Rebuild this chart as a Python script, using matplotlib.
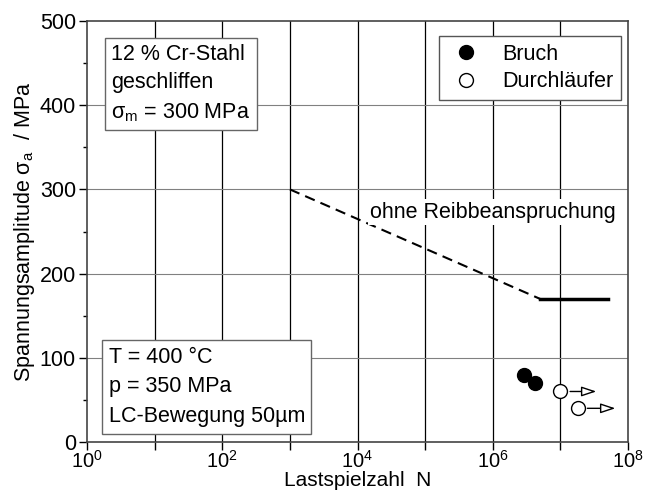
import numpy as np
import matplotlib.pyplot as plt
from matplotlib.ticker import NullFormatter

plt.rcParams['font.family'] = ['Liberation Sans', 'DejaVu Sans']
plt.rcParams['mathtext.fontset'] = 'custom'
plt.rcParams['mathtext.rm'] = 'Liberation Sans'
plt.rcParams['mathtext.it'] = 'Liberation Sans'

# Daten
bruch_N = [2.9e6, 4.2e6]
bruch_sa = [80, 70]
durch_N = [1.0e7, 1.8e7]
durch_sa = [60, 40]
durch_pfeil_N = [3.4e7, 6.5e7]

ohne_N = [1e3, 5e6]
ohne_sa = [300, 170]
dauer_N = [5e6, 5e7]
dauer_sa = [170, 170]

fs = 15.5

fig = plt.figure(figsize=(6.45, 4.93), dpi=100)
ax = fig.add_axes([87/645, 51/493, 541/645, 421/493])

ax.set_xscale('log')
ax.set_xlim(1, 1e8)
ax.set_ylim(0, 500)

# Gitter
for d in range(1, 8):
    ax.axvline(10.0**d, color='black', lw=0.9, zorder=1)
for yv in [100, 200, 300, 400]:
    ax.axhline(yv, color='#808080', lw=0.8, zorder=1)

ax.set_xticks([1, 1e2, 1e4, 1e6, 1e8])
ax.set_xticklabels(['$10^0$', '$10^2$', '$10^4$', '$10^6$', '$10^8$'])
ax.set_xticks([10.0**d for d in range(1, 8, 2)], minor=True)
ax.xaxis.set_minor_formatter(NullFormatter())
ax.set_yticks([0, 100, 200, 300, 400, 500])
ax.set_yticks([50, 150, 250, 350, 450], minor=True)
ax.tick_params(which='major', direction='out', length=6, width=1, labelsize=fs, pad=2)
ax.tick_params(axis='x', which='major', labelsize=14.5, pad=0)
ax.tick_params(which='minor', direction='out', length=3, width=1)
ax.tick_params(axis='x', which='minor', length=6)
for s in ax.spines.values():
    s.set_color('#444444')
    s.set_linewidth(1.2)

# Linien
ax.plot(ohne_N, ohne_sa, color='black', lw=1.5, ls=(0, (5, 3)), zorder=3)
ax.plot(dauer_N, dauer_sa, color='black', lw=2.5, zorder=3)

# Punkte
ax.plot(bruch_N, bruch_sa, 'o', ms=10, color='black', ls='none', zorder=5, label='Bruch')
for n, s, e in zip(durch_N, durch_sa, durch_pfeil_N):
    ax.annotate('', xy=(e, s), xytext=(n, s),
                arrowprops=dict(arrowstyle='-|>,head_length=0.9,head_width=0.3',
                                fc='white', ec='black', lw=1, shrinkA=7, shrinkB=0),
                zorder=4)
ax.plot(durch_N, durch_sa, 'o', ms=10, mfc='white', mec='black', mew=1,
        ls='none', zorder=5, label='Durchläufer')

leg = ax.legend(loc='upper right', bbox_to_anchor=(0.987, 0.964), borderaxespad=0,
                fontsize=fs, frameon=True, fancybox=False,
                edgecolor='#555555', framealpha=1,
                handletextpad=0.8, labelspacing=0.3, borderpad=0.35,
                handlelength=1.8)
leg.get_frame().set_linewidth(1)

# Texte
box = dict(boxstyle='square,pad=0.3', fc='white', ec='#666666', lw=1)
ax.text(0.045, 0.945, '12 % Cr-Stahl\ngeschliffen\nσ$_\\mathrm{m}$ = 300 MPa',
        transform=ax.transAxes, fontsize=fs, va='top', ha='left',
        linespacing=1.45, bbox=box, zorder=6)
ax.text(0.04, 0.035, 'T = 400 °C\np = 350 MPa\nLC-Bewegung 50µm',
        transform=ax.transAxes, fontsize=fs, va='bottom', ha='left',
        linespacing=1.55, bbox=box, zorder=6)
ax.text(1.0e6, 273, 'ohne Reibbeanspruchung', fontsize=fs, ha='center', va='center',
        bbox=dict(boxstyle='square,pad=0.1', fc='white', ec='none'), zorder=6)

ax.set_xlabel('Lastspielzahl  N', fontsize=15, labelpad=-1)
ax.set_ylabel('Spannungsamplitude σ$_\\mathrm{a}$  / MPa', fontsize=fs, labelpad=2)

fig.savefig('out.png', dpi=100)
